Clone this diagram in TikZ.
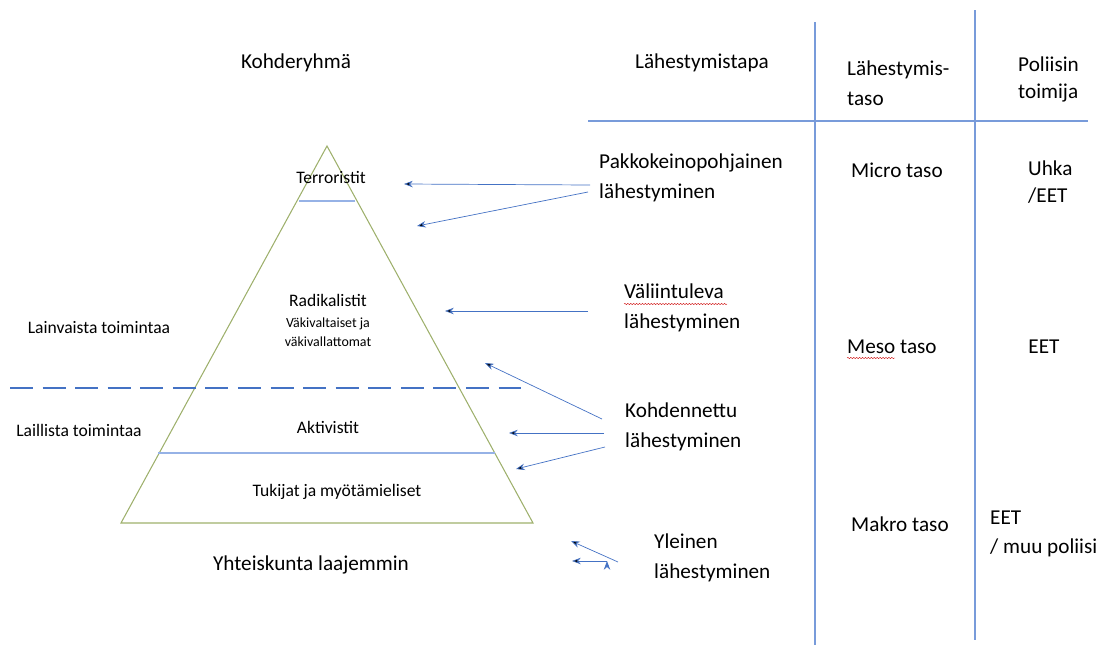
\documentclass[tikz,border=0pt]{standalone}
\usepackage{fontspec}
\setmainfont{Carlito}
\usepackage{tikz}
\usetikzlibrary{arrows.meta,calc,decorations.pathmorphing}

\definecolor{pyrgreen}{RGB}{158,176,108}
\definecolor{layerblue}{RGB}{150,178,230}
\definecolor{arrowblue}{RGB}{68,114,196}
\definecolor{tableblue}{RGB}{120,155,218}

\begin{document}
\begin{tikzpicture}[x=0.03cm,y=-0.03cm,>={Stealth[length=7.5pt,width=5.5pt]},
    big/.style={font=\fontsize{18.1}{25.5}\selectfont,inner sep=0pt},
    mid/.style={font=\fontsize{15}{18}\selectfont,inner sep=0pt},
    small/.style={font=\fontsize{11.9}{16}\selectfont,inner sep=0pt,align=center},
    pyr/.style={draw=pyrgreen,line width=0.9pt},
    layer/.style={draw=layerblue,line width=0.9pt},
    arr/.style={->,draw=arrowblue,line width=0.6pt},
    tabline/.style={draw=tableblue,line width=0.9pt},
    squiggle/.style={draw=red!80!black,line width=0.35pt,decorate,decoration={snake,amplitude=0.5pt,segment length=2.5pt}}]
    \useasboundingbox (0,0) rectangle (1110,645);

    \draw[pyr] (327,146) -- (533,523) -- (121,523) -- cycle;
    \draw[layer] (299,201) -- (355,201);
    \draw[layer] (158,453) -- (495,453);
    \draw[draw=arrowblue,line width=2.5pt,dash pattern=on 19.6pt off 8.2pt] (10,388) -- (521,388);

    \draw[tabline] (815,22) -- (815,645);
    \draw[tabline] (975,10) -- (975,640);
    \draw[tabline] (588,121) -- (1088,121);

    \node[big]                        (K)  at (296,63)  {Kohderyhmä};
    \node[big]                        (L)  at (702,63)  {Lähestymistapa};
    \node[big,anchor=west,align=left] (LT) at (847,83)  {Lähestymis-\\taso};
    \node[big,anchor=west,align=left,font=\fontsize{18.1}{23}\selectfont] (PT) at (1018,79) {Poliisin\\toimija};

    \node[mid]   (T)  at (331,177) {Terroristit};
    \node[mid]   (R)  at (328,300) {Radikalistit};
    \node[small] (RS) at (328,332) {Väkivaltaiset ja\\väkivallattomat};
    \node[mid]   (A)  at (328,427) {Aktivistit};
    \node[mid]   (TM) at (337,492) {Tukijat ja myötämieliset};
    \node[big]   (YL) at (311,565) {Yhteiskunta laajemmin};
    \node[mid]   (LV) at (99,328)  {Lainvaista toimintaa};
    \node[mid]   (LL) at (79,430)  {Laillista toimintaa};

    \node[big,anchor=west,align=left] (P)  at (599,178) {Pakkokeinopohjainen\\lähestyminen};
    \node[big,anchor=west,align=left] (V)  at (624,308) {Väliintuleva\\lähestyminen};
    \node[big,anchor=west,align=left] (KL) at (625,427) {Kohdennettu\\lähestyminen};
    \node[big,anchor=west,align=left] (Y)  at (654,558) {Yleinen\\lähestyminen};

    \node[big,anchor=west] (MI) at (851,170) {Micro taso};
    \node[big,anchor=west] (ME) at (847,347) {Meso taso};
    \node[big,anchor=west] (MA) at (851,524) {Makro taso};

    \node[big,anchor=west,align=left,font=\fontsize{18.1}{23}\selectfont] (U) at (1028,182) {Uhka\\/EET};
    \node[big]                        (E)  at (1044,347) {EET};
    \node[big,anchor=west,align=left,font=\fontsize{18.1}{24.5}\selectfont] (EM) at (990,534) {EET\\/ muu poliisi};

    \draw[squiggle] ($(V.west)+(0,-4)$) -- ($(V.west)+(103,-4)$);
    \draw[squiggle] ($(ME.west)+(0,11)$) -- ($(ME.west)+(48,11)$);

    \coordinate (t1) at (404,184);
    \coordinate (t2) at (417,226);
    \coordinate (t3) at (445,311);
    \coordinate (t4) at (485,363);
    \coordinate (t5) at (509,433);
    \coordinate (t6) at (516,469);
    \coordinate (t7) at (571,541);
    \coordinate (t8) at (572,561);

    \path[arr] ($(P.west)+(-9,7)$)    edge (t1)
               ($(P.west)+(-11,14)$)  edge (t2)
               ($(V.west)+(-36,3)$)   edge (t3)
               ($(KL.west)+(-23,-8)$) edge (t4)
               ($(KL.west)+(-21,6)$)  edge (t5)
               ($(KL.west)+(-20,20)$) edge (t6)
               ($(Y.west)+(-36,4)$)   edge (t7)
               ($(Y.west)+(-47,3)$)   edge (t8);
\end{tikzpicture}
\end{document}
